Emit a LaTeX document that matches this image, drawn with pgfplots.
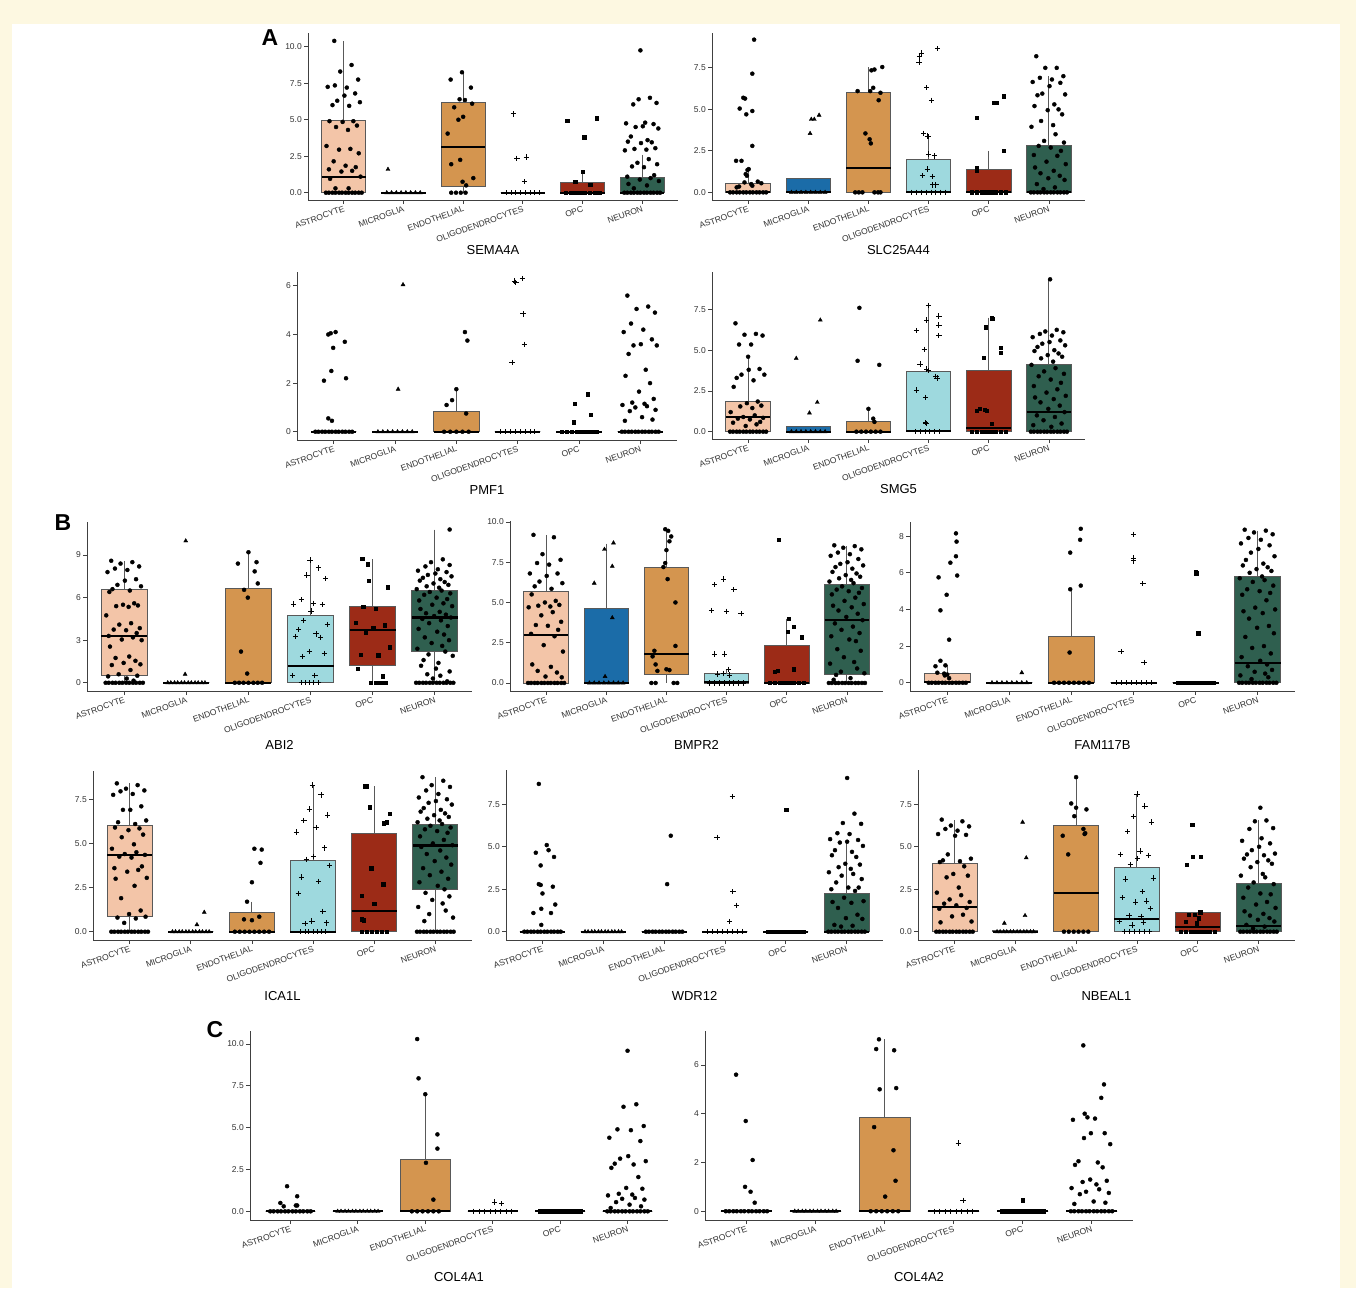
\documentclass[border=0pt]{standalone}
\usepackage{fontspec}
\setmainfont{Liberation Sans}
\usepackage{pgfplots}
\pgfplotsset{compat=1.18}
\usepgfplotslibrary{statistics}
\definecolor{cream}{HTML}{FDF8E1}
\definecolor{cA}{HTML}{F3C5A8}
\definecolor{cM}{HTML}{1B6CA8}
\definecolor{cE}{HTML}{D4954F}
\definecolor{cO}{HTML}{9ED9DE}
\definecolor{cP}{HTML}{9C2B17}
\definecolor{cN}{HTML}{2F5F4F}
\newcommand\tfont{\fontsize{8.5}{9}\selectfont}
\newcommand\gfont{\fontsize{13}{14}\selectfont}
\pgfplotsset{boxplot/every median/.style={draw=black, line width=2.2pt}}
\newcommand\bx[7]{\addplot[draw=black!65, line width=0.9pt, fill=#2, boxplot prepared={draw direction=y, draw position=#1, lower whisker=#3, lower quartile=#4, median=#5, upper quartile=#6, upper whisker=#7, box extend=0.74, whisker extend=0}] coordinates {};}
\pgfplotsset{
 gg/.style={scale only axis, anchor=south west, clip=false,
   axis x line=bottom, axis y line=left,
   axis line style={-, draw=black!75, line width=0.9pt},
   tick style={draw=black!75, line width=0.8pt},
   tick align=outside, major tick length=4pt,
   xmin=0.4, xmax=6.6, xtick={1,2,3,4,5,6},
   xticklabels={ASTROCYTE,MICROGLIA,ENDOTHELIAL,OLIGODENDROCYTES,OPC,NEURON},
   x tick label style={rotate=20, anchor=north east, font=\tfont, text=black!80, inner sep=1pt},
   y tick label style={font=\tfont, text=black!80, inner sep=2pt},
   /pgf/number format/assume math mode=true, scaled y ticks=false,
   xlabel style={font=\gfont, at={(axis description cs:0.5,0)}, anchor=center, yshift=-50pt},
 },
 dec/.style={yticklabel style={/pgf/number format/fixed,/pgf/number format/fixed zerofill,/pgf/number format/precision=1}},
 m1/.style={only marks, mark=*, mark size=2pt, black},
 m2/.style={only marks, mark=triangle*, mark size=2.3pt, black},
 m3/.style={only marks, mark=*, mark size=2pt, black},
 m4/.style={only marks, mark=+, mark size=2.7pt, black, mark options={line width=0.8pt}},
 m5/.style={only marks, mark=square*, mark size=1.7pt, black},
 m6/.style={only marks, mark=*, mark size=2pt, black},
}
\begin{document}
\begin{tikzpicture}
\useasboundingbox (0pt,0pt) rectangle (1356pt,-1288pt);
\fill[cream] (0pt,0pt) rectangle (1356pt,-1288pt);
\fill[white] (12pt,-24pt) rectangle (1340pt,-1288pt);

% ---------- SEMA4A
\begin{axis}[gg, dec, at={(308pt,-200pt)}, width=370pt, height=167pt, ymin=-0.5, ymax=10.94, ytick={0,2.5,5,7.5,10}, xlabel={SEMA4A}]
\bx{1}{cA}{0}{0}{1.05}{4.98}{10.4}
\bx{2}{cM}{0}{0}{0}{0}{0}
\bx{3}{cE}{0}{0.4}{3.15}{6.19}{8.25}
\bx{4}{cO}{0}{0}{0}{0}{0}
\bx{5}{cP}{0}{0}{0}{0.7}{1.4}
\bx{6}{cN}{0}{0}{0}{1.05}{2.6}
\addplot[m1] coordinates {(0.84,10.4)(1.13,8.75)(0.94,8.3)(1.24,7.75)(0.85,7.35)(1.05,7.2)(0.73,7.25)(1.19,6.8)(1.01,6.65)(0.89,6.3)(1.27,6.2)(0.81,6.0)(1.09,5.95)(0.76,4.9)(1.16,4.9)(0.98,4.85)(1.22,4.6)(0.87,4.5)(1.07,4.3)(0.71,3.2)(1.11,3.0)(0.92,2.95)(1.25,2.7)(0.83,2.15)(1.03,1.85)(1.2,1.75)(0.75,1.6)(1.14,1.5)(0.96,1.45)(1.28,1.1)(0.77,0.95)(1.08,0.3)(0.86,0.3)(0.7,0)(0.75,0)(0.81,0)(0.86,0)(0.92,0)(0.97,0)(1.03,0)(1.08,0)(1.14,0)(1.19,0)(1.25,0)(1.3,0)};
\addplot[m2] coordinates {(1.74,1.6)(1.72,0)(1.8,0)(1.88,0)(1.96,0)(2.04,0)(2.12,0)(2.2,0)(2.28,0)};
\addplot[m3] coordinates {(2.98,8.25)(2.79,7.75)(3.13,7.2)(2.94,6.4)(3.03,6.35)(3.15,6.1)(2.85,5.85)(3.0,5.2)(2.92,5.0)(2.74,4.05)(2.95,2.25)(2.8,1.95)(3.17,1.0)(2.99,0.75)(3.05,0.5)(2.8,0)(2.88,0)(2.96,0)(3.04,0)};
\addplot[m4] coordinates {(3.84,5.4)(3.9,2.35)(4.06,2.45)(4.03,0.75)(3.72,0)(3.8,0)(3.88,0)(3.96,0)(4.04,0)(4.12,0)(4.2,0)(4.28,0)};
\addplot[m5] coordinates {(4.74,4.95)(5.24,5.1)(5.03,3.8)(5.0,1.45)(4.88,0.75)(5.13,0.55)(4.72,0)(4.8,0)(4.88,0)(4.96,0)(5.04,0)(5.12,0)(5.2,0)(5.28,0)};
\addplot[m6] coordinates {(5.97,9.75)(6.13,6.5)(5.94,6.4)(6.24,6.15)(5.85,6.05)(6.05,4.8)(5.73,4.75)(6.19,4.7)(6.01,4.55)(5.89,4.5)(6.27,4.4)(5.81,3.85)(6.09,3.6)(5.76,3.5)(6.16,3.45)(5.98,3.4)(6.22,3.05)(5.87,3.0)(6.07,2.95)(5.71,2.9)(6.11,2.3)(5.92,2.05)(6.25,1.95)(5.83,1.8)(6.03,1.75)(6.2,1.2)(5.75,1.1)(6.14,1.0)(5.96,0.9)(6.28,0.8)(5.77,0.6)(6.08,0.5)(5.86,0.3)(5.7,0)(5.75,0)(5.81,0)(5.86,0)(5.92,0)(5.97,0)(6.03,0)(6.08,0)(6.14,0)(6.19,0)(6.25,0)(6.3,0)};
\end{axis}

% ---------- SLC25A44
\begin{axis}[gg, dec, at={(712pt,-200pt)}, width=373pt, height=167pt, ymin=-0.46, ymax=9.6, ytick={0,2.5,5,7.5}, xlabel={SLC25A44}]
\bx{1}{cA}{0}{0}{0}{0.55}{1.4}
\bx{2}{cM}{0}{0}{0}{0.85}{0.85}
\bx{3}{cE}{0}{0}{1.45}{6.0}{7.55}
\bx{4}{cO}{0}{0}{0}{2.0}{3.5}
\bx{5}{cP}{0}{0}{0}{1.4}{2.5}
\bx{6}{cN}{0}{0}{0}{2.85}{7.0}
\addplot[m1] coordinates {(1.1,9.2)(1.07,7.15)(0.92,5.7)(0.95,5.65)(0.86,5.05)(1.07,4.9)(0.97,4.7)(1.07,2.8)(0.8,1.9)(0.89,1.9)(1.01,1.4)(0.99,1.35)(0.96,1.1)(0.98,1.0)(1.16,0.65)(0.94,0.6)(1.22,0.55)(1.05,0.5)(1.07,0.4)(0.85,0.35)(0.81,0.3)(0.7,0)(0.75,0)(0.81,0)(0.86,0)(0.92,0)(0.97,0)(1.03,0)(1.08,0)(1.14,0)(1.19,0)(1.25,0)(1.3,0)};
\addplot[m2] coordinates {(2.18,4.65)(2.1,4.4)(2.05,4.4)(2.03,3.55)(1.72,0)(1.8,0)(1.88,0)(1.96,0)(2.04,0)(2.12,0)(2.2,0)(2.28,0)};
\addplot[m3] coordinates {(3.23,7.55)(3.1,7.4)(3.05,7.35)(3.08,6.3)(2.82,6.1)(3.03,6.1)(3.2,6.0)(3.17,5.55)(2.95,3.55)(3.02,3.2)(3.04,2.95)(2.78,0)(2.84,0)(2.9,0)(3.1,0)(3.16,0)(3.2,0)};
\addplot[m4] coordinates {(4.15,8.65)(3.88,8.4)(3.85,8.2)(3.84,7.85)(3.97,6.3)(4.05,5.55)(3.92,3.55)(3.98,3.4)(4.0,3.35)(4.0,2.3)(4.1,2.2)(3.98,1.4)(3.9,1.0)(4.06,0.95)(4.07,0.45)(4.12,0.45)(3.72,0)(3.8,0)(3.88,0)(3.96,0)(4.04,0)(4.12,0)(4.2,0)(4.28,0)};
\addplot[m5] coordinates {(5.25,5.8)(5.13,5.4)(5.08,5.4)(4.8,4.5)(5.25,2.5)(4.8,1.45)(4.8,1.3)(4.72,0)(4.8,0)(4.88,0)(4.96,0)(5.04,0)(5.12,0)(5.2,0)(5.28,0)};
\addplot[m6] coordinates {(5.79,8.2)(6.13,7.5)(5.94,7.5)(6.24,7.0)(5.85,6.9)(6.05,6.8)(5.73,6.65)(6.19,6.6)(6.01,6.4)(5.89,5.95)(6.27,5.9)(5.81,5.85)(6.09,5.3)(5.76,5.2)(6.16,5.0)(5.98,4.95)(6.22,4.7)(5.87,4.3)(6.07,4.05)(5.71,3.95)(6.11,3.5)(5.92,3.1)(6.25,3.0)(5.83,2.8)(6.03,2.7)(6.2,2.5)(5.75,2.25)(6.14,2.2)(5.96,1.85)(6.28,1.7)(5.77,1.5)(6.08,1.3)(5.86,1.15)(6.18,1.0)(5.99,0.85)(6.26,0.75)(5.8,0.5)(6.1,0.3)(5.91,0.2)(5.7,0)(5.75,0)(5.81,0)(5.86,0)(5.92,0)(5.97,0)(6.03,0)(6.08,0)(6.14,0)(6.19,0)(6.25,0)(6.3,0)};
\end{axis}

% ---------- PMF1
\begin{axis}[gg, at={(297pt,-440pt)}, width=380pt, height=168pt, ymin=-0.34, ymax=6.57, ytick={0,2,4,6}, xlabel={PMF1}]
\bx{1}{cA}{0}{0}{0}{0}{0}
\bx{2}{cM}{0}{0}{0}{0}{0}
\bx{3}{cE}{0}{0}{0}{0.85}{1.75}
\bx{4}{cO}{0}{0}{0}{0}{0}
\bx{5}{cP}{0}{0}{0}{0}{0}
\bx{6}{cN}{0}{0}{0}{0}{0}
\addplot[m1] coordinates {(1.03,4.1)(0.95,4.05)(0.91,4.0)(1.18,3.7)(0.99,3.45)(0.96,2.5)(1.2,2.2)(0.84,2.1)(0.91,0.55)(0.97,0.45)(0.7,0)(0.75,0)(0.81,0)(0.86,0)(0.92,0)(0.97,0)(1.03,0)(1.08,0)(1.14,0)(1.19,0)(1.25,0)(1.3,0)};
\addplot[m2] coordinates {(2.13,6.05)(2.05,1.75)(1.72,0)(1.8,0)(1.88,0)(1.96,0)(2.04,0)(2.12,0)(2.2,0)(2.28,0)};
\addplot[m3] coordinates {(3.14,4.1)(3.18,3.75)(3.0,1.75)(2.93,1.3)(2.84,1.1)(3.16,0.75)(2.8,0)(2.9,0)(3.0,0)(3.1,0)(3.2,0)};
\addplot[m4] coordinates {(4.08,6.3)(3.95,6.2)(3.97,6.15)(4.09,4.85)(4.11,3.6)(3.91,2.85)(3.72,0)(3.8,0)(3.88,0)(3.96,0)(4.04,0)(4.12,0)(4.2,0)(4.28,0)};
\addplot[m5] coordinates {(5.14,1.55)(4.93,1.15)(5.19,0.7)(4.91,0.4)(4.72,0)(4.8,0)(4.88,0)(4.96,0)(5.04,0)(5.12,0)(5.2,0)(5.28,0)};
\addplot[m6] coordinates {(5.79,5.6)(6.13,5.15)(5.94,5.05)(6.24,4.9)(5.85,4.45)(6.05,4.2)(5.73,4.1)(6.19,3.8)(6.01,3.6)(5.89,3.55)(6.27,3.55)(5.81,3.2)(6.09,2.55)(5.76,2.3)(6.16,2.0)(5.98,1.65)(6.22,1.35)(5.87,1.2)(6.07,1.15)(5.71,1.1)(6.11,1.05)(5.92,1.0)(6.25,0.9)(5.83,0.85)(6.03,0.6)(6.2,0.5)(5.75,0.45)(5.7,0)(5.75,0)(5.81,0)(5.86,0)(5.92,0)(5.97,0)(6.03,0)(6.08,0)(6.14,0)(6.19,0)(6.25,0)(6.3,0)};
\end{axis}

% ---------- SMG5
\begin{axis}[gg, dec, at={(712pt,-439pt)}, width=373pt, height=167pt, ymin=-0.45, ymax=9.8, ytick={0,2.5,5,7.5}, xlabel={SMG5}]
\bx{1}{cA}{0}{0}{0.92}{1.85}{4.6}
\bx{2}{cM}{0}{0}{0}{0.3}{0.3}
\bx{3}{cE}{0}{0}{0}{0.65}{1.4}
\bx{4}{cO}{0}{0}{0.05}{3.68}{7.75}
\bx{5}{cP}{0}{0}{0.25}{3.78}{7.0}
\bx{6}{cN}{0}{0}{1.19}{4.15}{9.35}
\addplot[m1] coordinates {(0.79,6.65)(1.13,6.0)(0.94,5.95)(1.24,5.9)(0.85,5.35)(1.05,5.35)(1.0,4.6)(1.19,3.85)(1.01,3.8)(0.89,3.5)(1.27,3.5)(0.81,3.3)(1.09,3.15)(0.76,2.75)(1.16,1.85)(0.98,1.75)(1.22,1.6)(0.87,1.55)(1.07,1.45)(0.71,1.2)(1.11,1.0)(0.92,0.9)(1.25,0.85)(0.83,0.8)(1.03,0.75)(1.2,0.6)(0.75,0.55)(1.14,0.45)(0.96,0.35)(0.7,0)(0.75,0)(0.81,0)(0.86,0)(0.92,0)(0.97,0)(1.03,0)(1.08,0)(1.14,0)(1.19,0)(1.25,0)(1.3,0)};
\addplot[m2] coordinates {(2.2,6.85)(1.8,4.5)(2.15,1.8)(2.02,1.15)(1.72,0)(1.8,0)(1.88,0)(1.96,0)(2.04,0)(2.12,0)(2.2,0)(2.28,0)};
\addplot[m3] coordinates {(2.85,7.6)(2.82,4.35)(3.18,4.1)(3.0,1.4)(3.08,0.8)(3.1,0.6)(2.8,0)(2.88,0)(2.96,0)(3.04,0)(3.12,0)(3.2,0)};
\addplot[m4] coordinates {(4.0,7.75)(4.17,7.1)(3.97,6.85)(4.17,6.55)(3.8,6.2)(4.17,5.9)(3.93,5.05)(3.86,4.15)(3.97,3.85)(4.0,3.75)(4.12,3.4)(4.14,3.3)(3.8,2.55)(3.95,2.1)(3.95,0.55)(3.96,0.5)(3.78,0)(3.86,0)(3.94,0)(4.02,0)(4.1,0)(4.18,0)};
\addplot[m5] coordinates {(5.05,7.0)(5.06,6.95)(4.95,6.4)(5.2,5.15)(5.2,4.85)(4.92,4.55)(4.85,1.4)(4.93,1.35)(4.8,1.3)(4.97,1.3)(5.05,0.5)(4.72,0)(4.8,0)(4.88,0)(4.96,0)(5.04,0)(5.12,0)(5.2,0)(5.28,0)};
\addplot[m6] coordinates {(6.02,9.35)(6.13,6.25)(5.94,6.15)(6.24,6.1)(5.85,6.0)(6.05,5.9)(5.73,5.8)(6.19,5.6)(6.01,5.5)(5.89,5.4)(6.27,5.3)(5.81,5.2)(6.09,5.0)(5.76,4.95)(6.16,4.8)(5.98,4.7)(6.22,4.6)(5.87,4.5)(6.07,4.3)(5.71,4.1)(6.11,3.9)(5.92,3.7)(6.25,3.55)(5.83,3.4)(6.03,3.2)(6.2,3.0)(5.75,2.8)(6.14,2.6)(5.96,2.4)(6.28,2.2)(5.77,2.1)(6.08,2.0)(5.86,1.8)(6.18,1.6)(5.99,1.4)(6.26,1.2)(5.8,1.0)(6.1,0.9)(5.91,0.7)(6.21,0.5)(5.74,0.4)(6.04,0.3)(5.7,0)(5.75,0)(5.81,0)(5.86,0)(5.92,0)(5.97,0)(6.03,0)(6.08,0)(6.14,0)(6.19,0)(6.25,0)(6.3,0)};
\end{axis}

% ---------- ABI2
\begin{axis}[gg, at={(87pt,-691pt)}, width=385pt, height=169pt, ymin=-0.58, ymax=11.33, ytick={0,3,6,9}, xlabel={ABI2}, xlabel style={yshift=-4pt}]
\bx{1}{cA}{0}{0.54}{3.29}{6.6}{8.6}
\bx{2}{cM}{0}{0}{0}{0}{0}
\bx{3}{cE}{0}{0}{0}{6.65}{9.2}
\bx{4}{cO}{0}{0}{1.2}{4.77}{8.65}
\bx{5}{cP}{0}{1.2}{3.71}{5.36}{8.7}
\bx{6}{cN}{0}{2.2}{4.6}{6.53}{10.8}
\addplot[m1] coordinates {(0.79,8.6)(1.13,8.5)(0.94,8.4)(1.24,8.2)(0.85,8.05)(1.05,7.95)(0.73,7.8)(1.19,7.3)(1.01,7.2)(0.89,6.9)(1.27,6.8)(0.81,6.6)(1.09,6.5)(0.76,6.4)(1.16,5.6)(0.98,5.5)(1.22,5.45)(0.87,5.4)(1.07,5.35)(0.71,4.75)(1.11,4.2)(0.92,4.1)(1.25,3.85)(0.83,3.75)(1.03,3.7)(1.2,3.5)(0.75,3.3)(1.14,3.2)(0.96,3.05)(1.28,3.0)(0.77,2.55)(1.08,1.85)(0.86,1.75)(1.18,1.55)(0.99,1.4)(1.26,1.3)(0.8,1.25)(1.1,0.9)(0.91,0.6)(1.21,0.5)(0.74,0.45)(1.04,0.3)(1.15,0.15)(0.7,0)(0.75,0)(0.81,0)(0.86,0)(0.92,0)(0.97,0)(1.03,0)(1.08,0)(1.14,0)(1.19,0)(1.25,0)(1.3,0)};
\addplot[m2] coordinates {(1.99,10.0)(1.98,0.6)(1.7,0)(1.75,0)(1.81,0)(1.86,0)(1.92,0)(1.97,0)(2.03,0)(2.08,0)(2.14,0)(2.19,0)(2.25,0)(2.3,0)};
\addplot[m3] coordinates {(3.0,9.2)(2.83,8.4)(3.13,8.5)(3.1,7.85)(3.15,7.0)(2.93,6.55)(2.99,6.0)(2.88,2.2)(2.98,0.65)(2.78,0)(2.85,0)(2.92,0)(3.0,0)(3.08,0)(3.15,0)(3.22,0)};
\addplot[m4] coordinates {(3.99,8.65)(4.13,8.1)(3.94,7.6)(4.24,7.35)(3.85,5.85)(4.05,5.6)(3.73,5.55)(4.19,5.5)(4.01,5.05)(3.89,4.4)(4.27,4.1)(3.81,3.75)(4.09,3.45)(3.76,3.25)(4.16,3.2)(3.98,2.2)(4.22,2.05)(3.87,1.85)(4.07,0.5)(3.71,0.5)(3.85,0)(3.92,0)(3.98,0)(4.05,0)(4.12,0)};
\addplot[m5] coordinates {(4.83,8.75)(4.92,8.35)(4.94,7.2)(5.24,6.75)(4.85,5.35)(5.05,5.2)(4.73,4.25)(5.19,4.05)(5.01,3.85)(4.89,3.55)(5.27,2.5)(4.81,2.0)(5.09,1.95)(4.76,1.0)(5.16,0.45)(4.97,0)(5.06,0)(5.13,0)(5.2,0)};
\addplot[m6] coordinates {(6.24,10.8)(6.13,8.7)(5.94,8.5)(6.24,8.3)(5.85,8.2)(6.05,8.0)(5.73,7.9)(6.19,7.8)(6.01,7.7)(5.89,7.6)(6.27,7.5)(5.81,7.4)(6.09,7.3)(5.76,7.2)(6.16,7.1)(5.98,7.0)(6.22,6.9)(5.87,6.8)(6.07,6.7)(5.71,6.6)(6.11,6.5)(5.92,6.4)(6.25,6.3)(5.83,6.2)(6.03,6.0)(6.2,5.9)(5.75,5.8)(6.14,5.6)(5.96,5.5)(6.28,5.4)(5.77,5.2)(6.08,5.0)(5.86,4.9)(6.18,4.8)(5.99,4.7)(6.26,4.6)(5.8,4.5)(6.1,4.4)(5.91,4.2)(6.21,4.0)(5.74,3.8)(6.04,3.6)(6.15,3.4)(5.84,3.2)(6.23,3.0)(5.95,2.8)(6.12,2.6)(5.72,2.4)(6.17,2.2)(5.9,2.0)(6.29,1.9)(5.82,1.6)(6.06,1.4)(5.78,1.2)(6.02,1.0)(6.24,0.8)(5.88,0.6)(6.09,0.5)(5.97,0.3)(6.2,0.1)(5.7,0)(5.75,0)(5.81,0)(5.86,0)(5.92,0)(5.97,0)(6.03,0)(6.08,0)(6.14,0)(6.19,0)(6.25,0)(6.3,0)};
\end{axis}

% ---------- BMPR2
\begin{axis}[gg, dec, at={(510pt,-691pt)}, width=373pt, height=170pt, ymin=-0.5, ymax=10.06, ytick={0,2.5,5,7.5,10}, xlabel={BMPR2}, xlabel style={yshift=-4pt}]
\bx{1}{cA}{0}{0}{2.96}{5.71}{9.2}
\bx{2}{cM}{0}{0}{0}{4.6}{8.65}
\bx{3}{cE}{0}{0.54}{1.82}{7.2}{9.5}
\bx{4}{cO}{0}{0}{0.05}{0.58}{0.85}
\bx{5}{cP}{0}{0}{0}{2.34}{4.0}
\bx{6}{cN}{0}{0.54}{3.93}{6.1}{8.5}
\addplot[m1] coordinates {(0.79,9.2)(1.13,9.05)(0.94,8.0)(1.24,7.65)(0.85,7.45)(1.05,7.35)(0.73,6.8)(1.19,6.8)(1.01,6.65)(0.89,6.3)(1.27,6.2)(0.81,6.0)(1.09,5.85)(0.76,5.5)(1.16,5.1)(0.98,5.0)(1.22,4.85)(0.87,4.8)(1.07,4.75)(0.71,4.7)(1.11,4.4)(0.92,4.2)(1.25,3.8)(0.83,3.6)(1.03,3.55)(1.2,3.3)(0.75,3.05)(1.14,2.9)(0.96,2.35)(1.28,1.95)(0.77,1.15)(1.08,1.0)(0.86,0.75)(1.18,0.65)(0.99,0.4)(1.26,0.35)(0.7,0)(0.75,0)(0.81,0)(0.86,0)(0.92,0)(0.97,0)(1.03,0)(1.08,0)(1.14,0)(1.19,0)(1.25,0)(1.3,0)};
\addplot[m2] coordinates {(2.12,8.7)(1.97,8.3)(2.1,7.25)(1.8,6.2)(2.1,4.05)(1.98,0.4)(1.72,0)(1.8,0)(1.88,0)(1.96,0)(2.04,0)(2.12,0)(2.2,0)(2.28,0)};
\addplot[m3] coordinates {(2.98,9.55)(3.03,9.45)(3.08,9.1)(3.05,8.8)(3.0,8.25)(2.98,7.45)(2.95,7.2)(3.02,6.45)(3.15,5.0)(3.15,2.3)(2.8,2.0)(2.77,1.65)(2.82,1.15)(3.0,0.85)(3.05,0.8)(2.85,0.75)(2.75,0)(2.82,0)(3.12,0)(3.18,0)};
\addplot[m4] coordinates {(3.8,6.1)(3.95,6.45)(4.12,5.8)(3.75,4.5)(4.0,4.45)(4.24,4.3)(3.8,1.8)(3.97,1.8)(4.03,0.85)(3.95,0.6)(3.85,0.55)(4.05,0.5)(3.72,0)(3.8,0)(3.88,0)(3.96,0)(4.04,0)(4.12,0)(4.2,0)(4.28,0)};
\addplot[m5] coordinates {(4.87,8.9)(5.03,4.0)(5.12,3.5)(5.02,3.2)(5.25,2.85)(5.12,0.85)(4.85,0.75)(4.8,0.7)(4.72,0)(4.8,0)(4.88,0)(4.96,0)(5.04,0)(5.12,0)(5.2,0)(5.28,0)};
\addplot[m6] coordinates {(5.79,8.55)(6.13,8.5)(5.94,8.4)(6.24,8.3)(5.85,8.1)(6.05,8.0)(5.73,7.9)(6.19,7.7)(6.01,7.5)(5.89,7.4)(6.27,7.3)(5.81,7.2)(6.09,7.1)(5.76,6.9)(6.16,6.8)(5.98,6.7)(6.22,6.6)(5.87,6.5)(6.07,6.4)(5.71,6.3)(6.11,6.2)(5.92,6.0)(6.25,5.9)(5.83,5.8)(6.03,5.7)(6.2,5.6)(5.75,5.5)(6.14,5.3)(5.96,5.1)(6.28,4.9)(5.77,4.8)(6.08,4.7)(5.86,4.5)(6.18,4.3)(5.99,4.1)(6.26,3.9)(5.8,3.7)(6.1,3.5)(5.91,3.3)(6.21,3.1)(5.74,2.9)(6.04,2.7)(6.15,2.6)(5.84,2.1)(6.23,2.0)(5.95,1.6)(6.12,1.3)(5.72,1.2)(6.17,0.9)(5.9,0.7)(6.29,0.6)(5.82,0.5)(6.06,0.3)(5.78,0.2)(5.7,0)(5.75,0)(5.81,0)(5.86,0)(5.92,0)(5.97,0)(6.03,0)(6.08,0)(6.14,0)(6.19,0)(6.25,0)(6.3,0)};
\end{axis}

% ---------- FAM117B
\begin{axis}[gg, at={(910pt,-691pt)}, width=385pt, height=169pt, ymin=-0.45, ymax=8.77, ytick={0,2,4,6,8}, xlabel={FAM117B}, xlabel style={yshift=-4pt}]
\bx{1}{cA}{0}{0}{0.05}{0.5}{0.95}
\bx{2}{cM}{0}{0}{0}{0}{0}
\bx{3}{cE}{0}{0}{0}{2.5}{5.05}
\bx{4}{cO}{0}{0}{0}{0}{0}
\bx{5}{cP}{0}{0}{0}{0}{0}
\bx{6}{cN}{0}{0}{1.09}{5.78}{8.3}
\addplot[m1] coordinates {(1.14,8.15)(1.15,7.7)(1.14,6.9)(1.05,6.55)(1.16,5.85)(0.86,5.75)(0.99,4.8)(0.89,3.95)(1.03,2.35)(0.89,1.2)(0.97,0.95)(0.81,0.9)(0.84,0.55)(0.95,0.5)(1.0,0.45)(0.96,0.4)(1.03,0.25)(0.7,0)(0.75,0)(0.81,0)(0.86,0)(0.92,0)(0.97,0)(1.03,0)(1.08,0)(1.14,0)(1.19,0)(1.25,0)(1.3,0)};
\addplot[m2] coordinates {(2.2,0.55)(1.72,0)(1.8,0)(1.88,0)(1.96,0)(2.04,0)(2.12,0)(2.2,0)(2.28,0)};
\addplot[m3] coordinates {(3.15,8.4)(3.14,7.8)(2.98,7.1)(3.15,5.3)(2.98,5.1)(2.97,1.65)(2.72,0)(2.8,0)(2.88,0)(2.96,0)(3.04,0)(3.12,0)(3.2,0)(3.28,0)};
\addplot[m4] coordinates {(4.0,8.1)(4.0,6.8)(4.0,6.65)(4.15,5.4)(3.8,1.7)(4.17,1.1)(3.72,0)(3.8,0)(3.88,0)(3.96,0)(4.04,0)(4.12,0)(4.2,0)(4.28,0)};
\addplot[m5] coordinates {(5.0,6.05)(5.02,6.0)(5.01,5.95)(5.04,2.7)(4.72,0)(4.8,0)(4.88,0)(4.96,0)(5.04,0)(5.12,0)(5.2,0)(5.28,0)};
\addplot[m6] coordinates {(5.79,8.35)(6.13,8.3)(5.94,8.2)(6.24,8.1)(5.85,7.9)(6.05,7.8)(5.73,7.6)(6.19,7.5)(6.01,7.3)(5.89,7.1)(6.27,6.9)(5.81,6.7)(6.09,6.5)(5.76,6.4)(6.16,6.3)(5.98,6.2)(6.22,6.1)(5.87,6.0)(6.07,5.8)(5.71,5.7)(6.11,5.6)(5.92,5.5)(6.25,5.3)(5.83,5.1)(6.03,5.0)(6.2,4.9)(5.75,4.8)(6.14,4.5)(5.96,4.1)(6.28,4.0)(5.77,3.9)(6.08,3.8)(5.86,3.5)(6.18,3.1)(5.99,3.0)(6.26,2.7)(5.8,2.5)(6.1,2.0)(5.91,1.9)(6.21,1.6)(5.74,1.4)(6.04,1.2)(6.15,1.0)(5.84,0.9)(6.23,0.7)(5.95,0.6)(6.12,0.5)(5.72,0.4)(6.17,0.3)(5.9,0.2)(5.7,0)(5.75,0)(5.81,0)(5.86,0)(5.92,0)(5.97,0)(6.03,0)(6.08,0)(6.14,0)(6.19,0)(6.25,0)(6.3,0)};
\end{axis}

% ---------- ICA1L
\begin{axis}[gg, dec, at={(93pt,-940pt)}, width=379pt, height=169pt, ymin=-0.47, ymax=9.1, ytick={0,2.5,5,7.5}, xlabel={ICA1L}, xlabel style={yshift=-6pt}]
\bx{1}{cA}{0}{0.85}{4.33}{5.99}{8.4}
\bx{2}{cM}{0}{0}{0}{0}{0}
\bx{3}{cE}{0}{0}{0}{1.08}{1.7}
\bx{4}{cO}{0}{0}{0}{4.03}{8.3}
\bx{5}{cP}{0}{0}{1.19}{5.54}{8.25}
\bx{6}{cN}{0}{2.4}{4.88}{6.07}{8.75}
\addplot[m1] coordinates {(0.79,8.4)(1.13,8.3)(0.94,8.1)(1.24,8.0)(0.85,7.95)(1.05,7.8)(0.73,7.75)(1.19,7.1)(1.01,6.9)(0.89,6.9)(1.27,6.3)(0.81,6.2)(1.09,6.1)(0.76,5.9)(1.16,5.85)(0.98,5.75)(1.22,5.5)(0.87,5.35)(1.07,4.95)(0.71,4.7)(1.11,4.5)(0.92,4.4)(1.25,4.35)(0.83,4.25)(1.03,4.2)(1.2,3.7)(0.75,3.6)(1.14,3.5)(0.96,3.4)(1.28,3.05)(0.77,3.0)(1.08,2.6)(0.86,1.9)(1.18,1.2)(0.99,1.0)(1.26,0.85)(0.8,0.8)(1.1,0.75)(0.91,0.5)(0.7,0)(0.75,0)(0.81,0)(0.86,0)(0.92,0)(0.97,0)(1.03,0)(1.08,0)(1.14,0)(1.19,0)(1.25,0)(1.3,0)};
\addplot[m2] coordinates {(2.22,1.1)(2.1,0.4)(1.7,0)(1.75,0)(1.81,0)(1.86,0)(1.92,0)(1.97,0)(2.03,0)(2.08,0)(2.14,0)(2.19,0)(2.25,0)(2.3,0)};
\addplot[m3] coordinates {(3.04,4.7)(3.16,4.65)(3.14,3.9)(3.0,2.8)(2.92,1.7)(3.12,0.85)(2.87,0.7)(3.0,0.65)(2.72,0)(2.8,0)(2.88,0)(2.96,0)(3.04,0)(3.12,0)(3.2,0)(3.28,0)};
\addplot[m4] coordinates {(3.99,8.3)(4.13,7.75)(3.94,6.95)(4.24,6.6)(3.85,6.3)(4.05,5.9)(3.73,5.65)(4.19,4.75)(4.01,4.25)(3.89,4.1)(4.27,3.75)(3.81,3.1)(4.09,2.85)(3.76,2.15)(4.16,1.15)(3.98,0.6)(4.22,0.5)(3.87,0.45)(3.8,0)(3.87,0)(3.93,0)(4.0,0)(4.07,0)(4.13,0)(4.2,0)};
\addplot[m5] coordinates {(4.85,8.25)(4.87,8.25)(4.93,7.05)(5.25,6.7)(5.2,6.2)(5.16,6.15)(4.95,3.6)(5.15,2.7)(4.8,2.05)(5.0,1.6)(4.8,0.7)(4.83,0.65)(4.8,0)(4.88,0)(4.96,0)(5.04,0)(5.12,0)(5.2,0)};
\addplot[m6] coordinates {(5.79,8.75)(6.13,8.55)(5.94,8.3)(6.24,8.2)(5.85,8.0)(6.05,7.8)(5.73,7.6)(6.19,7.5)(6.01,7.4)(5.89,7.3)(6.27,7.2)(5.81,7.0)(6.09,6.9)(5.76,6.8)(6.16,6.7)(5.98,6.6)(6.22,6.5)(5.87,6.4)(6.07,6.3)(5.71,6.2)(6.11,6.1)(5.92,6.0)(6.25,5.9)(5.83,5.8)(6.03,5.7)(6.2,5.6)(5.75,5.4)(6.14,5.2)(5.96,5.0)(6.28,4.9)(5.77,4.8)(6.08,4.6)(5.86,4.4)(6.18,4.2)(5.99,4.0)(6.26,3.8)(5.8,3.6)(6.1,3.4)(5.91,3.2)(6.21,3.0)(5.74,2.8)(6.04,2.6)(6.15,2.4)(5.84,2.2)(6.23,2.0)(5.95,1.8)(6.12,1.6)(5.72,1.4)(6.17,1.2)(5.9,1.0)(6.29,0.8)(5.82,0.6)(5.7,0)(5.75,0)(5.81,0)(5.86,0)(5.92,0)(5.97,0)(6.03,0)(6.08,0)(6.14,0)(6.19,0)(6.25,0)(6.3,0)};
\end{axis}

% ---------- WDR12
\begin{axis}[gg, dec, at={(506pt,-940pt)}, width=377pt, height=170pt, ymin=-0.49, ymax=9.52, ytick={0,2.5,5,7.5}, xlabel={WDR12}, xlabel style={yshift=-6pt}]
\bx{1}{cA}{0}{0}{0}{0}{0}
\bx{2}{cM}{0}{0}{0}{0}{0}
\bx{3}{cE}{0}{0}{0}{0}{0}
\bx{4}{cO}{0}{0}{0}{0}{0}
\bx{5}{cP}{0}{0}{0}{0}{0}
\bx{6}{cN}{0}{0}{0}{2.26}{5.35}
\addplot[m1] coordinates {(0.94,8.7)(1.07,5.1)(1.1,4.8)(0.89,4.65)(1.19,4.4)(0.97,3.9)(0.94,2.8)(0.97,2.75)(1.17,2.65)(1.0,2.25)(1.21,1.6)(0.98,1.35)(0.85,1.1)(1.14,1.1)(0.98,0.4)(0.7,0)(0.75,0)(0.81,0)(0.86,0)(0.92,0)(0.97,0)(1.03,0)(1.08,0)(1.14,0)(1.19,0)(1.25,0)(1.3,0)};
\addplot[m2] coordinates {(1.7,0)(1.75,0)(1.81,0)(1.86,0)(1.92,0)(1.97,0)(2.03,0)(2.08,0)(2.14,0)(2.19,0)(2.25,0)(2.3,0)};
\addplot[m3] coordinates {(3.11,5.65)(3.05,2.8)(2.7,0)(2.75,0)(2.81,0)(2.86,0)(2.92,0)(2.97,0)(3.03,0)(3.08,0)(3.14,0)(3.19,0)(3.25,0)(3.3,0)};
\addplot[m4] coordinates {(4.12,7.95)(3.87,5.55)(4.13,2.35)(4.19,1.55)(4.08,0.6)(3.72,0)(3.8,0)(3.88,0)(3.96,0)(4.04,0)(4.12,0)(4.2,0)(4.28,0)};
\addplot[m5] coordinates {(5.01,7.2)(4.7,0)(4.75,0)(4.81,0)(4.86,0)(4.92,0)(4.97,0)(5.03,0)(5.08,0)(5.14,0)(5.19,0)(5.25,0)(5.3,0)};
\addplot[m6] coordinates {(6.01,9.05)(6.13,6.95)(5.94,6.4)(6.24,6.35)(5.85,5.8)(6.05,5.75)(5.73,5.45)(6.19,5.4)(6.01,5.3)(5.89,5.25)(6.27,5.05)(5.81,4.8)(6.09,4.7)(5.76,4.5)(6.16,4.4)(5.98,4.0)(6.22,3.95)(5.87,3.8)(6.07,3.7)(5.71,3.5)(6.11,3.4)(5.92,3.3)(6.25,3.1)(5.83,2.9)(6.03,2.6)(6.2,2.6)(5.75,2.5)(6.14,2.4)(5.96,2.0)(6.28,1.8)(5.77,1.75)(6.08,1.7)(5.86,1.4)(6.18,1.0)(5.99,0.8)(6.26,0.75)(5.8,0.4)(6.1,0.35)(5.91,0.3)(5.7,0)(5.75,0)(5.81,0)(5.86,0)(5.92,0)(5.97,0)(6.03,0)(6.08,0)(6.14,0)(6.19,0)(6.25,0)(6.3,0)};
\end{axis}

% ---------- NBEAL1
\begin{axis}[gg, dec, at={(918pt,-940pt)}, width=377pt, height=170pt, ymin=-0.49, ymax=9.52, ytick={0,2.5,5,7.5}, xlabel={NBEAL1}, xlabel style={yshift=-6pt}]
\bx{1}{cA}{0}{0}{1.47}{4.03}{6.55}
\bx{2}{cM}{0}{0}{0}{0.1}{0.1}
\bx{3}{cE}{0}{0}{2.3}{6.27}{9.1}
\bx{4}{cO}{0}{0}{0.75}{3.77}{8.1}
\bx{5}{cP}{0}{0}{0.3}{1.12}{1.15}
\bx{6}{cN}{0}{0}{0.35}{2.85}{6.55}
\addplot[m1] coordinates {(0.79,6.6)(1.13,6.5)(0.94,6.25)(1.24,6.2)(0.85,6.05)(1.05,5.95)(0.73,5.75)(1.19,5.7)(1.01,5.65)(0.89,4.55)(1.27,4.3)(0.81,4.2)(1.09,4.15)(0.76,4.1)(1.16,3.85)(0.98,3.4)(1.22,3.3)(0.87,3.2)(1.07,2.6)(0.71,2.3)(1.11,2.15)(0.92,1.9)(1.25,1.75)(0.83,1.65)(1.03,1.55)(1.2,1.4)(0.75,1.35)(1.14,1.0)(0.96,0.9)(1.28,0.6)(0.77,0.55)(0.7,0)(0.75,0)(0.81,0)(0.86,0)(0.92,0)(0.97,0)(1.03,0)(1.08,0)(1.14,0)(1.19,0)(1.25,0)(1.3,0)};
\addplot[m2] coordinates {(2.12,6.45)(2.18,4.35)(2.16,0.95)(1.82,0.5)(1.7,0)(1.75,0)(1.81,0)(1.86,0)(1.92,0)(1.97,0)(2.03,0)(2.08,0)(2.14,0)(2.19,0)(2.25,0)(2.3,0)};
\addplot[m3] coordinates {(3.0,9.1)(2.92,7.55)(3.0,7.3)(3.17,7.2)(2.97,6.8)(3.12,6.05)(3.15,5.8)(3.14,5.75)(2.78,5.65)(2.87,4.55)(2.8,0)(2.88,0)(2.96,0)(3.04,0)(3.12,0)(3.2,0)};
\addplot[m4] coordinates {(4.0,8.1)(4.13,7.4)(3.94,6.8)(4.24,6.45)(3.85,5.9)(4.05,4.75)(3.73,4.55)(4.19,4.5)(4.01,4.3)(3.89,3.95)(4.27,3.15)(3.81,3.1)(4.09,2.35)(3.76,2.0)(4.16,1.8)(3.98,1.75)(4.22,1.35)(3.87,0.95)(4.07,0.9)(3.71,0.6)(4.11,0.55)(3.92,0.4)(3.8,0)(3.88,0)(3.96,0)(4.04,0)(4.12,0)(4.2,0)};
\addplot[m5] coordinates {(4.91,6.3)(4.92,4.4)(5.05,4.4)(4.82,3.95)(5.04,1.15)(4.85,1.0)(4.95,1.0)(5.02,0.8)(4.8,0.6)(4.98,0.5)(4.72,0)(4.8,0)(4.88,0)(4.96,0)(5.04,0)(5.12,0)(5.2,0)(5.28,0)};
\addplot[m6] coordinates {(6.03,7.3)(6.13,6.55)(5.94,6.5)(6.24,6.1)(5.85,6.05)(6.05,5.5)(5.73,5.35)(6.19,5.2)(6.01,5.0)(5.89,4.8)(6.27,4.6)(5.81,4.55)(6.09,4.5)(5.76,4.3)(6.16,4.2)(5.98,4.1)(6.22,4.0)(5.87,3.8)(6.07,3.4)(5.71,3.3)(6.11,3.2)(5.92,2.9)(6.25,2.8)(5.83,2.6)(6.03,2.25)(6.2,2.2)(5.75,2.0)(6.14,1.75)(5.96,1.6)(6.28,1.4)(5.77,1.2)(6.08,1.05)(5.86,0.95)(6.18,0.8)(5.99,0.7)(6.26,0.6)(5.8,0.4)(6.1,0.3)(5.91,0.2)(5.7,0)(5.75,0)(5.81,0)(5.86,0)(5.92,0)(5.97,0)(6.03,0)(6.08,0)(6.14,0)(6.19,0)(6.25,0)(6.3,0)};
\end{axis}

% ---------- COL4A1
\begin{axis}[gg, dec, at={(250pt,-1220pt)}, width=418pt, height=189pt, ymin=-0.52, ymax=10.78, ytick={0,2.5,5,7.5,10}, xlabel={COL4A1}, xlabel style={yshift=-7pt}]
\bx{1}{cA}{0}{0}{0}{0}{0}
\bx{2}{cM}{0}{0}{0}{0}{0}
\bx{3}{cE}{0}{0}{0}{3.1}{7.0}
\bx{4}{cO}{0}{0}{0}{0}{0}
\bx{5}{cP}{0}{0}{0}{0}{0}
\bx{6}{cN}{0}{0}{0}{0}{0}
\addplot[m1] coordinates {(0.95,1.5)(1.1,0.9)(0.85,0.5)(1.1,0.35)(1.08,0.35)(0.9,0.3)(0.7,0)(0.75,0)(0.81,0)(0.86,0)(0.92,0)(0.97,0)(1.03,0)(1.08,0)(1.14,0)(1.19,0)(1.25,0)(1.3,0)};
\addplot[m2] coordinates {(1.7,0)(1.75,0)(1.81,0)(1.86,0)(1.92,0)(1.97,0)(2.03,0)(2.08,0)(2.14,0)(2.19,0)(2.25,0)(2.3,0)};
\addplot[m3] coordinates {(2.88,10.3)(2.9,7.95)(3.0,7.0)(3.18,4.6)(3.18,3.75)(3.01,2.9)(3.12,0.7)(2.8,0)(2.88,0)(2.96,0)(3.04,0)(3.12,0)(3.2,0)};
\addplot[m4] coordinates {(4.03,0.55)(4.13,0.45)(3.72,0)(3.8,0)(3.88,0)(3.96,0)(4.04,0)(4.12,0)(4.2,0)(4.28,0)};
\addplot[m5] coordinates {(4.7,0)(4.75,0)(4.81,0)(4.86,0)(4.92,0)(4.97,0)(5.03,0)(5.08,0)(5.14,0)(5.19,0)(5.25,0)(5.3,0)};
\addplot[m6] coordinates {(6.0,9.6)(6.13,6.4)(5.94,6.25)(6.24,5.1)(5.85,4.9)(6.05,4.85)(5.73,4.4)(6.19,4.2)(6.01,3.3)(5.89,3.15)(6.27,3.0)(5.81,2.85)(6.09,2.8)(5.76,2.6)(6.16,2.05)(5.98,1.4)(6.22,1.35)(5.87,1.05)(6.07,1.0)(5.71,0.95)(6.11,0.8)(5.92,0.75)(6.25,0.7)(5.83,0.55)(6.03,0.4)(6.2,0.3)(5.75,0.2)(5.7,0)(5.75,0)(5.81,0)(5.86,0)(5.92,0)(5.97,0)(6.03,0)(6.08,0)(6.14,0)(6.19,0)(6.25,0)(6.3,0)};
\end{axis}

% ---------- COL4A2
\begin{axis}[gg, at={(705pt,-1220pt)}, width=428pt, height=189pt, ymin=-0.36, ymax=7.39, ytick={0,2,4,6}, xlabel={COL4A2}, xlabel style={yshift=-7pt}]
\bx{1}{cA}{0}{0}{0}{0}{0}
\bx{2}{cM}{0}{0}{0}{0}{0}
\bx{3}{cE}{0}{0}{0}{3.84}{7.05}
\bx{4}{cO}{0}{0}{0}{0}{0}
\bx{5}{cP}{0}{0}{0}{0}{0}
\bx{6}{cN}{0}{0}{0}{0}{0}
\addplot[m1] coordinates {(0.85,5.6)(0.99,3.7)(1.09,2.1)(0.98,1.0)(1.06,0.8)(1.12,0.35)(0.7,0)(0.75,0)(0.81,0)(0.86,0)(0.92,0)(0.97,0)(1.03,0)(1.08,0)(1.14,0)(1.19,0)(1.25,0)(1.3,0)};
\addplot[m2] coordinates {(1.7,0)(1.75,0)(1.81,0)(1.86,0)(1.92,0)(1.97,0)(2.03,0)(2.08,0)(2.14,0)(2.19,0)(2.25,0)(2.3,0)};
\addplot[m3] coordinates {(2.92,7.05)(2.88,6.65)(3.14,6.6)(3.17,5.05)(2.93,5.0)(2.85,3.45)(3.13,2.5)(3.16,1.25)(3.01,0.6)(2.8,0)(2.88,0)(2.96,0)(3.04,0)(3.12,0)(3.2,0)};
\addplot[m4] coordinates {(4.07,2.8)(4.14,0.45)(3.72,0)(3.8,0)(3.88,0)(3.96,0)(4.04,0)(4.12,0)(4.2,0)(4.28,0)};
\addplot[m5] coordinates {(5.0,0.45)(4.7,0)(4.75,0)(4.81,0)(4.86,0)(4.92,0)(4.97,0)(5.03,0)(5.08,0)(5.14,0)(5.19,0)(5.25,0)(5.3,0)};
\addplot[m6] coordinates {(5.88,6.8)(6.18,5.2)(6.14,4.65)(5.9,4.0)(5.94,3.85)(6.05,3.8)(5.73,3.75)(6.19,3.2)(5.99,3.2)(5.89,3.0)(6.27,2.75)(5.81,2.05)(6.09,2.0)(5.76,1.9)(6.16,1.8)(5.98,1.3)(6.22,1.25)(5.87,1.2)(6.07,1.1)(5.71,0.95)(6.11,0.9)(5.92,0.8)(6.25,0.75)(5.83,0.7)(6.03,0.4)(6.2,0.35)(5.75,0.3)(5.7,0)(5.75,0)(5.81,0)(5.86,0)(5.92,0)(5.97,0)(6.03,0)(6.08,0)(6.14,0)(6.19,0)(6.25,0)(6.3,0)};
\end{axis}

\node[anchor=base west, font=\bfseries\fontsize{23}{23}\selectfont] at (258pt,-45pt) {A};
\node[anchor=base west, font=\bfseries\fontsize{23}{23}\selectfont] at (51pt,-530pt) {B};
\node[anchor=base west, font=\bfseries\fontsize{23}{23}\selectfont] at (203pt,-1037pt) {C};
\end{tikzpicture}
\end{document}
